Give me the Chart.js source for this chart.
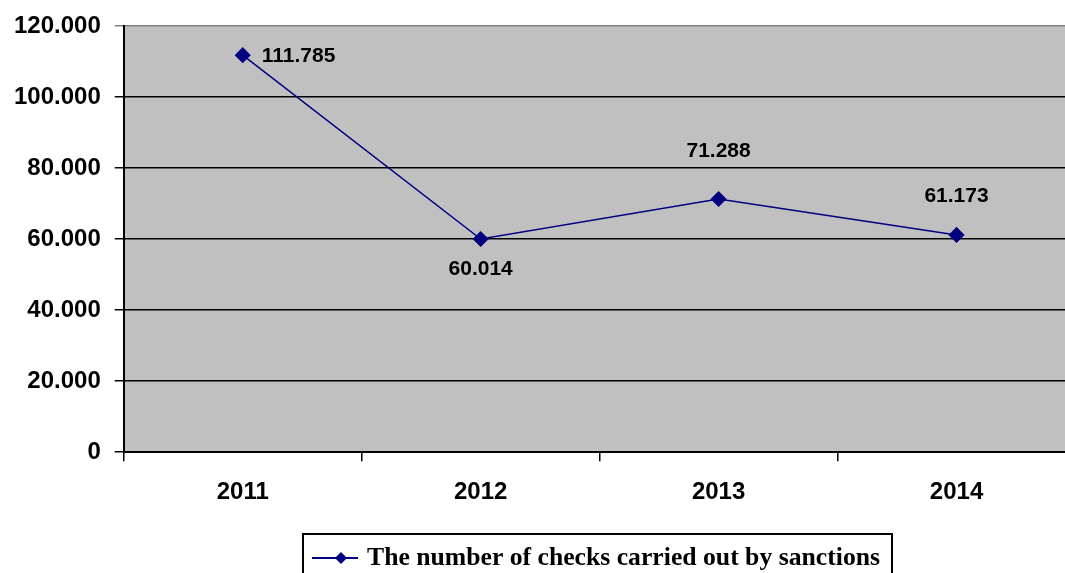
<!DOCTYPE html>
<html>
<head>
<meta charset="utf-8">
<script src="https://cdn.jsdelivr.net/npm/chart.js@4"></script>
<style>
  html, body { margin: 0; padding: 0; background: #fff; overflow: hidden; }
  #wrap { width: 1065px; height: 573px; overflow: hidden; }
</style>
</head>
<body>
<!-- canvas is wider than the window on purpose: the plot runs off the right edge in the original -->
<div id="wrap"><canvas id="myChart" width="1084" height="573"></canvas></div>
<script>
// data
var years = ['2011', '2012', '2013', '2014'];
var checks = [111785, 60014, 71288, 61173];
var seriesLabel = 'The number of checks carried out by sanctions';
var yTicks = [0, 20000, 40000, 60000, 80000, 100000, 120000];

var sansFont = "'Liberation Sans', Arial, sans-serif";
var serifFont = "'Liberation Serif', 'Times New Roman', serif";

// 111785 -> "111.785"
function fmt(v) {
    return String(v).replace(/\B(?=(\d{3})+(?!\d))/g, '.');
}

// grey plot area
const plotBg = {
    id: 'plotBg',
    beforeDraw(chart) {
        const a = chart.chartArea;
        const ctx = chart.ctx;
        ctx.save();
        ctx.fillStyle = '#C0C0C0';
        ctx.fillRect(a.left, a.top, a.right - a.left, a.bottom - a.top);
        ctx.restore();
    }
};

// value labels next to the points
const valueLabels = {
    id: 'valueLabels',
    afterDatasetsDraw(chart) {
        const ctx = chart.ctx;
        const meta = chart.getDatasetMeta(0);
        const place = ['right', 'below', 'above', 'above'];
        ctx.save();
        ctx.font = 'bold 21px ' + sansFont;
        ctx.fillStyle = '#000';
        ctx.textBaseline = 'middle';
        meta.data.forEach(function (pt, i) {
            const txt = fmt(chart.data.datasets[0].data[i]);
            if (place[i] == 'right') {
                ctx.textAlign = 'left';
                ctx.fillText(txt, pt.x + 19, pt.y + 1);
            } else if (place[i] == 'below') {
                ctx.textAlign = 'center';
                ctx.fillText(txt, pt.x, pt.y + 30);
            } else if (i == 2) {
                ctx.textAlign = 'center';
                ctx.fillText(txt, pt.x, pt.y - 48);
            } else {
                ctx.textAlign = 'center';
                ctx.fillText(txt, pt.x, pt.y - 39);
            }
        });
        ctx.restore();
    }
};

// boxed legend at the bottom (line + diamond marker)
const boxLegend = {
    id: 'boxLegend',
    afterDraw(chart) {
        const ctx = chart.ctx;
        const ds = chart.data.datasets[0];
        ctx.save();
        ctx.strokeStyle = '#000';
        ctx.lineWidth = 2;
        ctx.strokeRect(303, 534, 589, 45);
        ctx.strokeStyle = ds.borderColor;
        ctx.lineWidth = 2;
        ctx.beginPath();
        ctx.moveTo(312, 558);
        ctx.lineTo(358, 558);
        ctx.stroke();
        ctx.fillStyle = ds.borderColor;
        ctx.beginPath();
        ctx.moveTo(341, 552);
        ctx.lineTo(347, 558);
        ctx.lineTo(341, 564);
        ctx.lineTo(335, 558);
        ctx.closePath();
        ctx.fill();
        ctx.fillStyle = '#000';
        ctx.font = 'bold 26px ' + serifFont;
        ctx.textBaseline = 'middle';
        ctx.textAlign = 'left';
        ctx.fillText(ds.label, 367, 558, 513);
        ctx.restore();
    }
};

const data = {
    labels: years,
    datasets: [{
        label: seriesLabel,
        data: checks,
        borderColor: '#000080',
        backgroundColor: '#000080',
        borderWidth: 1.5,
        pointStyle: 'rectRot',
        pointRadius: 7,
        pointHoverRadius: 7,
        tension: 0,
        fill: false
    }]
};

const config = {
    type: 'line',
    data,
    options: {
        responsive: false,
        animation: false,
        layout: {
            padding: { top: 12, right: 0, bottom: 49, left: 0 }
        },
        plugins: {
            legend: { display: false },
            tooltip: { enabled: false }
        },
        scales: {
            x: {
                offset: true,
                grid: {
                    offset: true,
                    drawOnChartArea: false,
                    drawTicks: true,
                    tickLength: 9,
                    color: '#000',
                    lineWidth: 1.5
                },
                border: { color: '#000', width: 2 },
                ticks: {
                    color: '#000',
                    padding: 17,
                    font: { family: sansFont, size: 24, weight: 'bold' }
                }
            },
            y: {
                min: 0,
                max: 120000,
                afterBuildTicks: function (axis) {
                    axis.ticks = yTicks.map(function (v) { return { value: v }; });
                },
                grid: {
                    // top edge of the plot is grey, the rest black
                    color: function (c) { return c.tick && c.tick.value == 120000 ? '#808080' : '#000'; },
                    lineWidth: 1.5,
                    tickLength: 9
                },
                border: { color: '#000', width: 2 },
                ticks: {
                    color: '#000',
                    padding: 14,
                    font: { family: sansFont, size: 24, weight: 'bold', lineHeight: 1 },
                    callback: function (v) { return fmt(v); }
                }
            }
        }
    },
    plugins: [plotBg, valueLabels, boxLegend]
};

const myChart = new Chart(
    document.getElementById('myChart'),
    config
);
</script>
</body>
</html>
